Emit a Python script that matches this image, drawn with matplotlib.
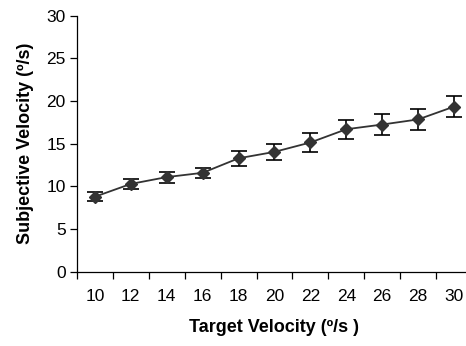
import matplotlib.pyplot as plt
import numpy as np

plt.rcParams["font.family"] = ["Liberation Sans", "DejaVu Sans"]

target = [10, 12, 14, 16, 18, 20, 22, 24, 26, 28, 30]
subjective = [8.8, 10.3, 11.1, 11.6, 13.3, 14.05, 15.15, 16.7, 17.25, 17.85, 19.35]
sem = [0.55, 0.6, 0.65, 0.6, 0.9, 0.95, 1.1, 1.1, 1.2, 1.2, 1.2]

fig = plt.figure(figsize=(4.66, 3.46), dpi=100)
ax = fig.add_axes([0.165, 0.214, 0.848, 0.741])

pos = np.arange(len(target))
ax.errorbar(pos, subjective, yerr=sem, fmt="none", ecolor="black",
            elinewidth=1.2, capsize=6, capthick=1.2, zorder=2)
ax.plot(pos, subjective, color="#333333", lw=1.3, marker="D",
        markersize=6.5, markerfacecolor="#333333", markeredgecolor="#333333",
        zorder=3)

# category axis: ticks sit between the categories
ax.set_xlim(-0.5, len(target) - 0.5)
ax.set_xticks(np.arange(len(target) + 1) - 0.5)
ax.set_xticklabels([])
ax.set_xticks(pos, minor=True)
ax.set_xticklabels([str(t) for t in target], minor=True)
ax.tick_params(axis="x", which="minor", length=0, pad=12, labelsize=12.5)
ax.tick_params(axis="x", which="major", length=5, width=0.9)

ax.set_ylim(0, 30)
ax.set_yticks(range(0, 31, 5))
ax.tick_params(axis="y", length=5, width=0.9, labelsize=12.5, pad=3)

for side in ("top", "right"):
    ax.spines[side].set_visible(False)
for side in ("left", "bottom"):
    ax.spines[side].set_linewidth(0.9)

ax.set_xlabel("Target Velocity (º/s )", fontsize=13, fontweight="bold",
              labelpad=11)
ax.set_ylabel("Subjective Velocity (º/s)", fontsize=13, fontweight="bold",
              labelpad=9)

fig.savefig("out.png", dpi=100)
